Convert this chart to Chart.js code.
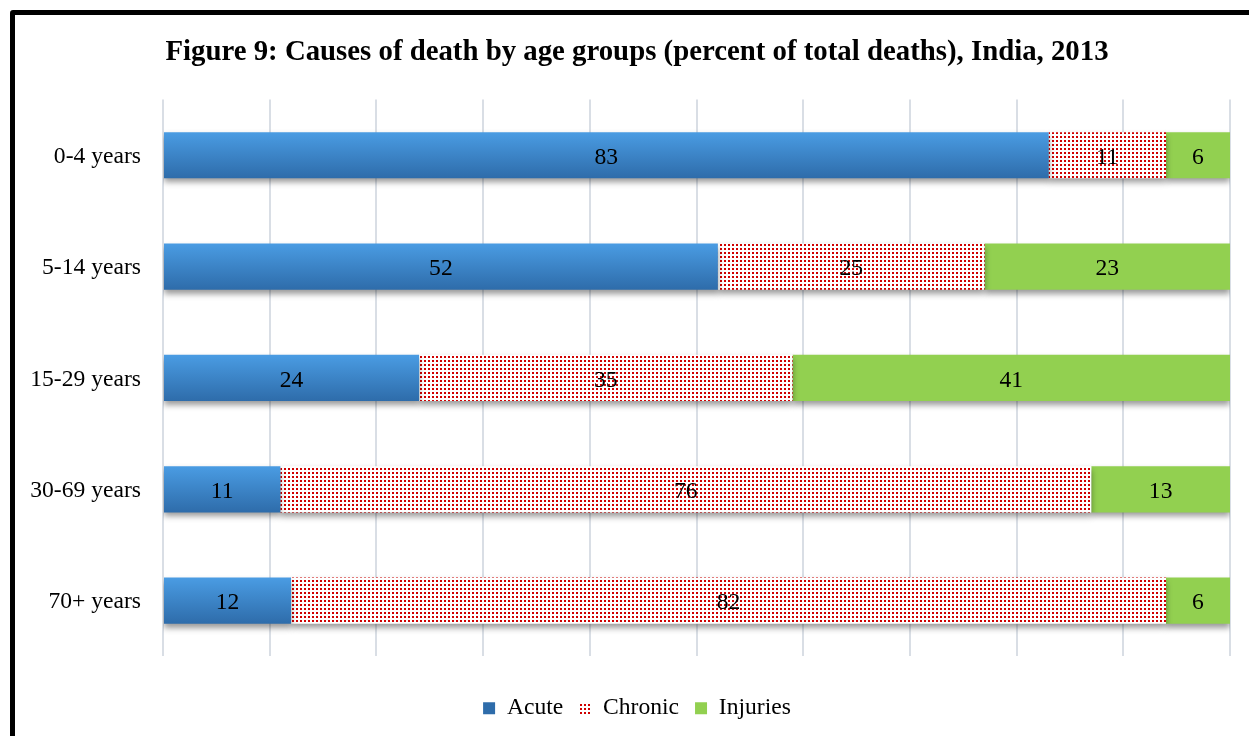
<!DOCTYPE html>
<html>
<head>
<meta charset="utf-8">
<script src="https://cdn.jsdelivr.net/npm/chart.js@4"></script>
<style>
  html, body { margin: 0; padding: 0; background: #fff; overflow: hidden; }
  #wrap { position: relative; width: 1249px; height: 736px; overflow: hidden; }
  #frame {
    position: absolute; left: 10px; top: 10px; width: 1300px; height: 800px;
    border: 5px solid #000; border-radius: 3px; box-sizing: border-box; pointer-events: none;
  }
  canvas { position: absolute; left: 0; top: 0; }
</style>
</head>
<body>
<div id="wrap">
  <canvas id="chart" width="1269" height="736"></canvas>
  <div id="frame"></div>
</div>
<script>
// ---- data ----
const ageGroups = ["0-4 years", "5-14 years", "15-29 years", "30-69 years", "70+ years"];
const acute = [83, 52, 24, 11, 12];
const chronic = [11, 25, 35, 76, 82];
const injuries = [6, 23, 41, 13, 6];
const xTicks = [0, 10, 20, 30, 40, 50, 60, 70, 80, 90, 100];

const FONT = "'Liberation Serif', 'Times New Roman', serif";
const TXT = 23.6;
const BAR_PCT = 0.415;

// red dotted fill for "Chronic"
function makeDots() {
  const c = document.createElement("canvas");
  c.width = 4; c.height = 4;
  const g = c.getContext("2d");
  g.fillStyle = "#ffffff";
  g.fillRect(0, 0, 4, 4);
  g.fillStyle = "#d00000";
  g.fillRect(0, 0, 2, 2);
  return g.createPattern(c, "repeat");
}

// blue gradient, light top -> dark bottom, per bar (from the y scale)
function blueFill(ctx) {
  const chart = ctx.chart;
  const y = chart.scales.y;
  if (!y || !chart.chartArea || ctx.dataIndex === undefined) return "#3d85c6";
  const cy = y.getPixelForValue(ctx.dataIndex);
  const half = (y.height / ageGroups.length) * BAR_PCT / 2;
  if (!isFinite(cy) || !isFinite(half) || half <= 0) return "#3d85c6";
  const grd = chart.ctx.createLinearGradient(0, cy - half, 0, cy + half);
  grd.addColorStop(0, "#4a9ce3");
  grd.addColorStop(1, "#2e6caa");
  return grd;
}

const dots = makeDots();

const shadowPlugin = {
  id: "barShadow",
  beforeDatasetsDraw(chart) {
    const c = chart.ctx;
    c.save();
    c.shadowColor = "rgba(0,0,0,0.4)";
    c.shadowBlur = 6;
    c.shadowOffsetY = 4;
  },
  afterDatasetsDraw(chart) {
    chart.ctx.restore();
  }
};

const valueLabels = {
  id: "valueLabels",
  afterDatasetsDraw(chart) {
    const c = chart.ctx;
    c.save();
    c.font = TXT + "px " + FONT;
    c.fillStyle = "#000";
    c.textAlign = "center";
    c.textBaseline = "middle";
    chart.data.datasets.forEach((ds, i) => {
      chart.getDatasetMeta(i).data.forEach((bar, j) => {
        const x = (bar.x + bar.base) / 2;
        c.fillText(String(ds.data[j]), x, bar.y + 2.5);
      });
    });
    c.restore();
  }
};

new Chart(document.getElementById("chart"), {
  type: "bar",
  data: {
    labels: ageGroups,
    datasets: [
      { label: "Acute", data: acute, backgroundColor: blueFill },
      { label: "Chronic", data: chronic, backgroundColor: dots },
      { label: "Injuries", data: injuries, backgroundColor: "#92d050" }
    ]
  },
  options: {
    indexAxis: "y",
    responsive: false,
    animation: false,
    devicePixelRatio: 1,
    datasets: { bar: { categoryPercentage: 1, barPercentage: BAR_PCT, borderWidth: 0 } },
    layout: { padding: { left: 24, right: 19, top: 12, bottom: 6 } },
    scales: {
      x: {
        stacked: true,
        min: 0,
        max: 100,
        afterBuildTicks(scale) { scale.ticks = xTicks.map(v => ({ value: v })); },
        ticks: { display: false },
        grid: { color: "#d9dee5", lineWidth: 2, drawTicks: false },
        border: { display: false },
        afterFit(scale) { scale.height = 24; }
      },
      y: {
        stacked: true,
        ticks: { color: "#000", font: { family: FONT, size: TXT }, padding: 22, labelOffset: 1.5 },
        grid: { display: false, drawTicks: false },
        border: { display: false },
        afterFit(scale) { scale.width = 139; }
      },
      // empty spacer on the right, keeps title and legend centred like the original
      yPad: {
        type: "category",
        position: "right",
        labels: ageGroups,
        ticks: { display: false },
        grid: { display: false, drawTicks: false },
        border: { display: false },
        afterFit(scale) { scale.width = 20; }
      }
    },
    plugins: {
      title: {
        display: true,
        text: "Figure 9: Causes of death by age groups (percent of total deaths), India, 2013",
        color: "#000",
        font: { family: FONT, size: 28.8, weight: "bold" },
        padding: { top: 23, bottom: 30 }
      },
      legend: {
        position: "bottom",
        labels: {
          color: "#000",
          font: { family: FONT, size: TXT },
          boxWidth: 12,
          boxHeight: 12,
          padding: 16
        }
      },
      tooltip: { enabled: false }
    }
  },
  plugins: [shadowPlugin, valueLabels]
});
</script>
</body>
</html>
